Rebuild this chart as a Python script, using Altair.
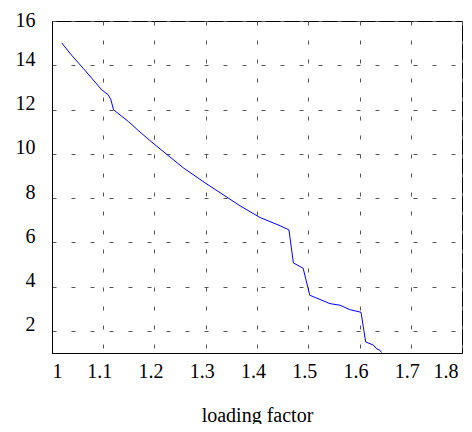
import altair as alt
import pandas as pd

x_vals = [1.019, 1.038, 1.061, 1.097, 1.110, 1.115, 1.120, 1.149, 1.168, 1.191,
          1.2205, 1.256, 1.2985, 1.367, 1.406, 1.445, 1.4624, 1.471, 1.490, 1.503,
          1.5424, 1.562, 1.581, 1.603, 1.612, 1.627, 1.634, 1.639, 1.643]
y_vals = [15.01, 14.46, 13.86, 12.89, 12.66, 12.44, 11.99, 11.46, 11.06, 10.60,
          10.04, 9.37, 8.69, 7.65, 7.12, 6.75, 6.56, 5.07, 4.83, 3.61,
          3.23, 3.16, 2.96, 2.84, 1.50, 1.36, 1.18, 1.14, 1.02]
x_ticks = [1.0, 1.1, 1.2, 1.3, 1.4, 1.5, 1.6, 1.7, 1.8]
y_ticks = [2, 4, 6, 8, 10, 12, 14, 16]
x_title = "loading factor"

df = pd.DataFrame({"x": x_vals, "y": y_vals, "i": list(range(len(x_vals)))})

FONT = "Liberation Serif"

chart = alt.Chart(df).mark_line(color="#0000ff", strokeWidth=1).encode(
    x=alt.X("x:Q",
            scale=alt.Scale(domain=[1, 1.8], nice=False, zero=False),
            axis=alt.Axis(values=x_ticks, format=".1~f", title=x_title,
                          ticks=False, labelPadding=8, labelFontSize=20,
                          labelOffset={"condition": {"test": "datum.value <= 1.01", "value": 0}, "value": -4},
                          titleFontSize=20, titleFontWeight="normal",
                          titleBaseline="alphabetic", titleY=68,
                          grid=True)),
    y=alt.Y("y:Q",
            scale=alt.Scale(domain=[1, 16], nice=False, zero=False),
            axis=alt.Axis(values=y_ticks, title=None, ticks=False,
                          labelPadding=17, labelFontSize=20,
                          labelOffset={"condition": {"test": "datum.value >= 15.5", "value": 5}, "value": 0},
                          labelBaseline="alphabetic", grid=True)),
    order="i:Q",
).properties(
    width=410, height=332,
    autosize=alt.AutoSizeParams(type="none"),
    padding={"left": 44, "top": 13, "right": 2, "bottom": 71},
).configure_axis(
    labelFont=FONT, titleFont=FONT, labelColor="black", titleColor="black",
    domainColor="black", domainWidth=1,
    gridColor="#555555", gridDash=[4, 15], gridWidth=1, gridOpacity=1,
).configure_view(
    stroke="black", strokeWidth=1,
)

chart.save("out.html", embed_options={"renderer": "svg", "actions": False})
